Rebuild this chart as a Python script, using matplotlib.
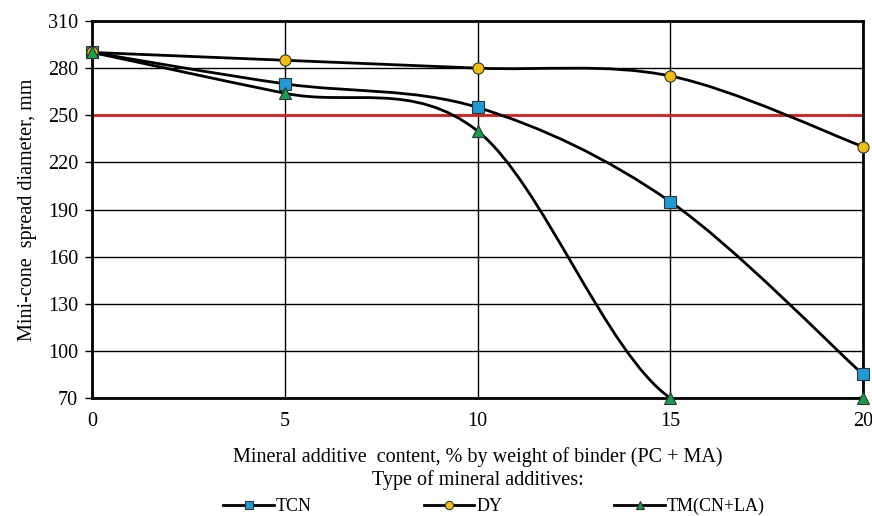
import matplotlib
matplotlib.use("Agg")
import matplotlib.pyplot as plt
from matplotlib.path import Path
from matplotlib.patches import PathPatch
from matplotlib.lines import Line2D
import numpy as np

plt.rcParams['font.family'] = ['Liberation Serif', 'DejaVu Serif']

x = [0, 5, 10, 15, 20]
tcn = [290, 270, 255, 195, 85]
dy = [290, 285, 280, 275, 230]
tm = [290, 264, 240, 70, 70]
limit = 250
yticks = [70, 100, 130, 160, 190, 220, 250, 280, 310]
xticks = [0, 5, 10, 15, 20]

fig = plt.figure(figsize=(8.72, 5.16), dpi=100)
ax = fig.add_axes([92/872, 1-398/516, (863-92)/872, (398-21)/516])

def smooth_path(xs, ys):
    pts = np.column_stack([xs, ys]).astype(float)
    n = len(pts)
    verts = [pts[0]]
    codes = [Path.MOVETO]
    for i in range(n-1):
        p0 = pts[i-1] if i > 0 else pts[i]
        p1 = pts[i]
        p2 = pts[i+1]
        p3 = pts[i+2] if i+2 < n else pts[i+1]
        c1 = p1 + (p2 - p0)/6
        c2 = p2 - (p3 - p1)/6
        verts += [c1, c2, p2]
        codes += [Path.CURVE4]*3
    return Path(verts, codes)

series = [
    (tcn, 's', '#1E9AD6', 'TCN'),
    (dy, 'o', '#F2BE10', 'DY'),
    (tm, '^', '#12A04A', 'TM(CN+LA)'),
]

ax.axhline(limit, color='#D42020', lw=2, zorder=3)

handles = []
for ys, m, c, lab in series:
    patch = PathPatch(smooth_path(x, ys), facecolor='none', edgecolor='black', lw=2, zorder=4)
    ax.add_patch(patch)
    ax.plot(x, ys, linestyle='none', marker=m, markersize=8, markerfacecolor=c,
            markeredgecolor='#333333', markeredgewidth=0.8, zorder=7, clip_on=False)
    handles.append(Line2D([], [], color='black', lw=2, marker=m, markersize=6,
                          markerfacecolor=c, markeredgecolor='#333333', markeredgewidth=0.8, label=lab))

ax.set_xlim(0, 20)
ax.set_ylim(70, 310)
ax.set_xticks(xticks)
ax.set_yticks(yticks)
ax.grid(True, color='black', lw=1)
ax.set_axisbelow(True)
for s in ax.spines.values():
    s.set_linewidth(2)
    s.set_zorder(6)
ax.tick_params(axis='both', labelsize=14.5, length=5, width=1, direction='out', pad=5)
ax.tick_params(axis='x', length=0, pad=10)

ax.set_ylabel('Mini-cone  spread diameter, mm', fontsize=14.5, labelpad=8)
ax.set_xlabel('Mineral additive  content, % by weight of binder (PC + MA)\nType of mineral additives:',
              fontsize=14.5, labelpad=12, linespacing=1.15)

fig.legend(handles=handles, loc='lower left', bbox_to_anchor=(216/872, -0.012, 556/872, 0.05),
           mode='expand', ncol=3, frameon=False, fontsize=13, handlelength=2.8,
           handletextpad=0.1, borderaxespad=0.0)

fig.savefig('out.png', dpi=100)
